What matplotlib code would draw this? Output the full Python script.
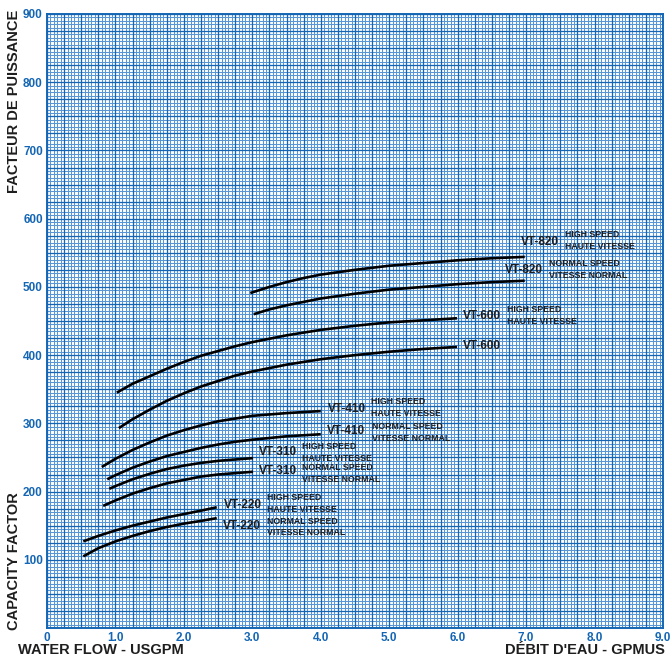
import numpy as np
import matplotlib.pyplot as plt

plt.rcParams['font.family'] = ['Liberation Sans', 'DejaVu Sans']
plt.rcParams['font.weight'] = 'bold'

BLUE = '#1466b4'
LIGHT = '#5896d6'
INK = '#1e1e1e'

# curve data (flow USGPM, capacity factor)
vt820_hi_x = [2.97, 3.25, 3.5, 3.75, 4.0, 4.5, 5.0, 5.5, 6.0, 6.5, 6.98]
vt820_hi_y = [491, 500, 507, 513, 518, 525, 531, 535, 539, 542, 544]
vt820_no_x = [3.02, 3.25, 3.5, 3.75, 4.0, 4.5, 5.0, 5.5, 6.0, 6.5, 6.98]
vt820_no_y = [460, 467, 473, 478, 483, 490, 496, 500, 504, 507, 509]
vt600_hi_x = [1.02, 1.25, 1.5, 1.75, 2.0, 2.25, 2.5, 2.75, 3.0, 3.5, 4.0, 4.5, 5.0, 5.5, 5.99]
vt600_hi_y = [345, 358, 369, 380, 390, 399, 406, 413, 419, 429, 437, 443, 448, 451, 454]
vt600_no_x = [1.05, 1.25, 1.5, 1.75, 2.0, 2.25, 2.5, 2.75, 3.0, 3.5, 4.0, 4.5, 5.0, 5.5, 5.99]
vt600_no_y = [293, 306, 320, 333, 344, 354, 362, 370, 376, 386, 394, 400, 405, 409, 412]
vt410_hi_x = [0.8, 1.0, 1.25, 1.5, 1.75, 2.0, 2.25, 2.5, 2.75, 3.0, 3.5, 4.0]
vt410_hi_y = [236, 248, 261, 272, 282, 290, 297, 303, 307, 311, 315, 318]
vt410_no_x = [0.88, 1.0, 1.25, 1.5, 1.75, 2.0, 2.25, 2.5, 2.75, 3.0, 3.5, 4.0]
vt410_no_y = [218, 224, 235, 244, 252, 258, 264, 269, 273, 276, 281, 284]
vt310_hi_x = [0.91, 1.0, 1.25, 1.5, 1.75, 2.0, 2.25, 2.5, 2.75, 3.01]
vt310_hi_y = [204, 208, 218, 226, 233, 238, 242, 245, 247, 249]
vt310_no_x = [0.82, 1.0, 1.25, 1.5, 1.75, 2.0, 2.25, 2.5, 2.75, 3.01]
vt310_no_y = [179, 187, 197, 205, 212, 217, 222, 225, 227, 229]
vt220_hi_x = [0.53, 0.75, 1.0, 1.25, 1.5, 1.75, 2.0, 2.25, 2.48]
vt220_hi_y = [127, 135, 143, 150, 156, 162, 167, 172, 177]
vt220_no_x = [0.53, 0.75, 1.0, 1.25, 1.5, 1.75, 2.0, 2.25, 2.48]
vt220_no_y = [105, 117, 127, 135, 142, 148, 153, 157, 161]

curves = [
    (vt820_hi_x, vt820_hi_y), (vt820_no_x, vt820_no_y),
    (vt600_hi_x, vt600_hi_y), (vt600_no_x, vt600_no_y),
    (vt410_hi_x, vt410_hi_y), (vt410_no_x, vt410_no_y),
    (vt310_hi_x, vt310_hi_y), (vt310_no_x, vt310_no_y),
    (vt220_hi_x, vt220_hi_y), (vt220_no_x, vt220_no_y),
]

models = ['VT-820', 'VT-820', 'VT-600', 'VT-600', 'VT-410', 'VT-410',
          'VT-310', 'VT-310', 'VT-220', 'VT-220']
speed_en = ['HIGH SPEED', 'NORMAL SPEED', 'HIGH SPEED', None, 'HIGH SPEED',
            'NORMAL SPEED', 'HIGH SPEED', 'NORMAL SPEED', 'HIGH SPEED', 'NORMAL SPEED']
speed_fr = ['HAUTE VITESSE', 'VITESSE NORMAL', 'HAUTE VITESSE', None, 'HAUTE VITESSE',
            'VITESSE NORMAL', 'HAUTE VITESSE', 'VITESSE NORMAL', 'HAUTE VITESSE', 'VITESSE NORMAL']

# label placement (data coords): model label, speed text block
model_pos = [(6.93, 566), (6.69, 525), (6.08, 457), (6.08, 413), (4.11, 321),
             (4.09, 289), (3.10, 258), (3.10, 230), (2.59, 180), (2.57, 150)]
speed_pos = [(7.57, 568), (7.33, 525), (6.72, 458), None, (4.73, 323),
             (4.75, 287), (3.73, 257), (3.73, 226), (3.21, 182), (3.21, 148)]

fig = plt.figure(figsize=(6.72, 6.60), dpi=100)
ax = fig.add_axes([47 / 672, 32 / 660, 616 / 672, 614 / 660])
ax.set_xlim(0, 9)
ax.set_ylim(0, 900)

# graph paper grid
ax.vlines(np.arange(0, 9.001, 0.05), 0, 900, colors=LIGHT, lw=0.75, zorder=0)
ax.hlines(np.arange(0, 900.1, 5), 0, 9, colors=LIGHT, lw=0.75, zorder=0)
ax.vlines(np.arange(0, 9.001, 0.25), 0, 900, colors=BLUE, lw=0.9, zorder=0)
ax.hlines(np.arange(0, 900.1, 25), 0, 9, colors=BLUE, lw=0.9, zorder=0)

for (xs, ys) in curves:
    ax.plot(xs, ys, color='black', lw=1.9, solid_capstyle='butt',
            solid_joinstyle='round', zorder=3)

for i, m in enumerate(models):
    mx, my = model_pos[i]
    ax.text(mx, my, m, fontsize=8.5, color=INK, ha='left', va='center', zorder=4)
    if speed_pos[i] is not None:
        sx, sy = speed_pos[i]
        ax.text(sx, sy, speed_en[i] + '\n' + speed_fr[i], fontsize=6.3, color=INK,
                ha='left', va='center', linespacing=1.4, zorder=4)

ax.set_xticks(np.arange(0, 10, 1))
ax.set_xticklabels(['0'] + ['%.1f' % v for v in range(1, 10)])
ax.set_yticks(np.arange(100, 1000, 100))
ax.set_yticklabels([str(v) for v in range(100, 1000, 100)])
ax.tick_params(length=0, labelsize=8.5, labelcolor=BLUE, pad=3)
for lab in ax.get_xticklabels() + ax.get_yticklabels():
    lab.set_fontweight('bold')

for s in ax.spines.values():
    s.set_color(BLUE)
    s.set_linewidth(1.4)

fig.text(18 / 672, 1 - 650 / 660, 'WATER FLOW - USGPM', fontsize=10.5, color=INK,
         ha='left', va='center')
fig.text(665 / 672, 1 - 650 / 660, "DÉBIT D'EAU - GPMUS", fontsize=10.5, color=INK,
         ha='right', va='center')
fig.text(14 / 672, 1 - 630 / 660, 'CAPACITY FACTOR', fontsize=10.5, color=INK,
         rotation=90, ha='center', va='bottom')
fig.text(14 / 672, 1 - 10 / 660, 'FACTEUR DE PUISSANCE', fontsize=10.5, color=INK,
         rotation=90, ha='center', va='top')

fig.savefig('out.png', dpi=100)
